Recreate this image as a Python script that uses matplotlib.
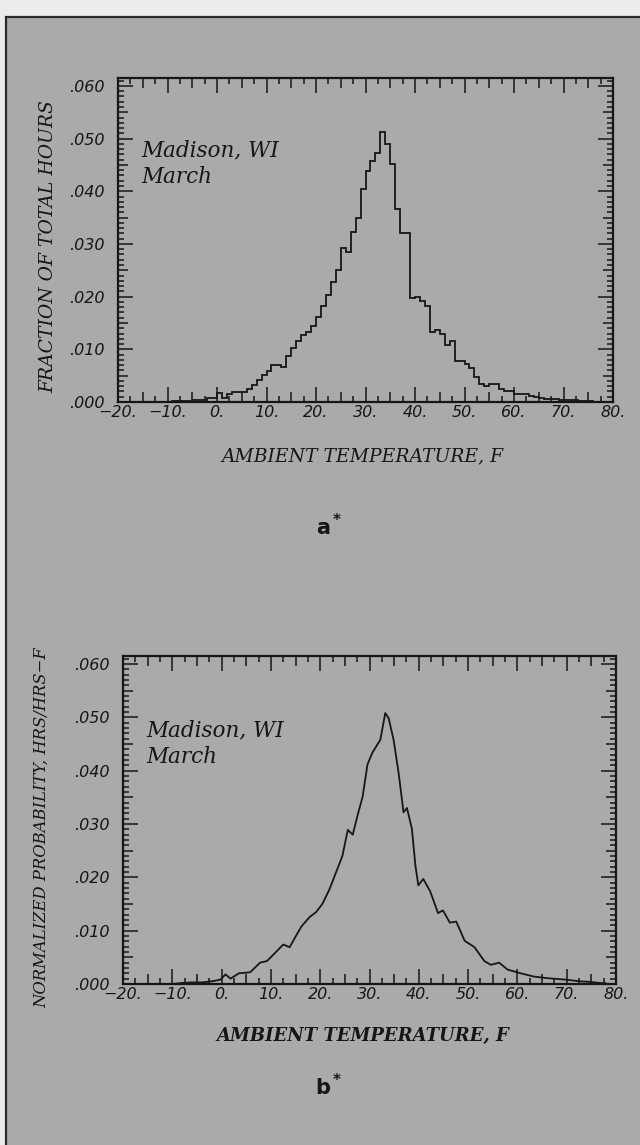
import numpy as np
import matplotlib
matplotlib.use("Agg")
import matplotlib.pyplot as plt
from matplotlib.patches import Rectangle
from matplotlib.ticker import MultipleLocator, FixedLocator

# ---------------- data ----------------
# (a) histogram, 1 F bins, left edges -10 .. 75
bin_left = list(range(-10, 76))
frac_hours = [
    0.0000, 0.0001, 0.0001, 0.0002, 0.0002, 0.0003, 0.0003, 0.0004, 0.0008, 0.0008,  # -10..-1
    0.0017, 0.0008, 0.0015, 0.0019, 0.0019, 0.0019, 0.0025, 0.0033, 0.0041, 0.0051,  # 0..9
    0.0058, 0.0070, 0.0070, 0.0067, 0.0088, 0.0103, 0.0116, 0.0127, 0.0133, 0.0145,  # 10..19
    0.0162, 0.0182, 0.0203, 0.0228, 0.0250, 0.0292, 0.0284, 0.0323, 0.0350, 0.0405,  # 20..29
    0.0438, 0.0457, 0.0473, 0.0512, 0.0489, 0.0451, 0.0367, 0.0321, 0.0321, 0.0197,  # 30..39
    0.0199, 0.0192, 0.0183, 0.0132, 0.0137, 0.0129, 0.0108, 0.0115, 0.0078, 0.0078,  # 40..49
    0.0072, 0.0065, 0.0048, 0.0035, 0.0030, 0.0035, 0.0035, 0.0024, 0.0020, 0.0020,  # 50..59
    0.0015, 0.0015, 0.0015, 0.0012, 0.0010, 0.0007, 0.0006, 0.0005, 0.0005, 0.0004,  # 60..69
    0.0004, 0.0004, 0.0003, 0.0002, 0.0002, 0.0001,                                  # 70..75
]

# (b) smoothed normalized probability curve
curve_t = [-10, -8, -6, -4, -2, -0.3, 0.8, 1.8, 3.5, 5.8, 7.8, 9.2, 10.5, 12.5, 13.8,
           15.2, 16.2, 17.9, 19.2, 20.5, 21.9, 23.2, 24.5, 25.6, 26.6, 27.6, 28.6,
           29.6, 30.6, 31.6, 32.2, 33.2, 33.9, 34.9, 35.9, 36.9, 37.6, 38.6, 39.3,
           39.9, 40.9, 42.3, 43.9, 44.9, 46.3, 47.6, 49.3, 51.3, 53.3, 54.6, 56.3,
           58.0, 60.7, 63.3, 66.0, 70.0, 72.7, 74.7, 76.7, 78.0]
curve_p = [0.0000, 0.0002, 0.0003, 0.0003, 0.0005, 0.0008, 0.0018, 0.0010, 0.0020,
           0.0022, 0.0040, 0.0043, 0.0055, 0.0074, 0.0069, 0.0092, 0.0108, 0.0126,
           0.0135, 0.0151, 0.0178, 0.0209, 0.0240, 0.0289, 0.0280, 0.0317, 0.0351,
           0.0412, 0.0434, 0.0449, 0.0458, 0.0508, 0.0498, 0.0457, 0.0396, 0.0322,
           0.0330, 0.0291, 0.0223, 0.0185, 0.0197, 0.0174, 0.0133, 0.0138, 0.0115,
           0.0117, 0.0081, 0.0069, 0.0043, 0.0036, 0.0040, 0.0027, 0.0020, 0.0014,
           0.0011, 0.0008, 0.0005, 0.0004, 0.0002, 0.0001]

x_ticks = [-20, -10, 0, 10, 20, 30, 40, 50, 60, 70, 80]
x_tick_labels = ["\u221220.", "\u221210.", "0.", "10.", "20.", "30.", "40.",
                 "50.", "60.", "70.", "80."]
y_ticks = [0.0, 0.01, 0.02, 0.03, 0.04, 0.05, 0.06]
y_tick_labels = [".000", ".010", ".020", ".030", ".040", ".050", ".060"]

# ---------------- styling ----------------
W, H = 640, 1145
DARK = "#161616"
PANEL = "#aaaaaa"

fig = plt.figure(figsize=(W / 100, H / 100), dpi=100)
fig.patch.set_facecolor("#ececec")
bg = Rectangle((6 / W, -0.01), 1, 1.01 - 17 / H, transform=fig.transFigure,
               facecolor=PANEL, edgecolor="#2a2a2a", linewidth=1.6, zorder=-100)
fig.add_artist(bg)


def fx(px):
    return px / W


def fy(py):
    return 1 - py / H


def setup(ax):
    ax.set_zorder(5)
    ax.set_facecolor("none")
    ax.set_xlim(-20, 80)
    ax.set_ylim(0, 0.0615)
    for s in ax.spines.values():
        s.set_linewidth(1.6)
        s.set_color(DARK)
    ax.xaxis.set_major_locator(FixedLocator(x_ticks))
    ax.xaxis.set_minor_locator(MultipleLocator(2.5))
    ax.yaxis.set_major_locator(FixedLocator(y_ticks))
    ax.yaxis.set_minor_locator(MultipleLocator(0.001))
    ax.set_xticklabels(x_tick_labels, fontsize=11.5, style="italic",
                       family="DejaVu Sans", color=DARK)
    ax.set_yticklabels(y_tick_labels, fontsize=11.5, style="italic",
                       family="DejaVu Sans", color=DARK)
    ax.tick_params(which="both", direction="in", top=True, right=True,
                   color=DARK, width=1.1)
    ax.tick_params(which="major", length=11)
    ax.tick_params(which="minor", length=4.5)
    ax.tick_params(axis="x", which="major", pad=2)
    ax.tick_params(axis="y", which="major", pad=10)
    # medium-length ticks at multiples of 5 (x) and .005 (y)
    xl = ax.xaxis.get_minorticklocs()
    for t, loc in zip(ax.xaxis.get_minor_ticks(len(xl)), xl):
        if abs(loc / 5 - round(loc / 5)) < 1e-6:
            t.tick1line.set_markersize(7.5)
            t.tick2line.set_markersize(7.5)
    yl = ax.yaxis.get_minorticklocs()
    for t, loc in zip(ax.yaxis.get_minor_ticks(len(yl)), yl):
        if abs(loc / 0.005 - round(loc / 0.005)) < 1e-6:
            t.tick1line.set_markersize(7.5)
            t.tick2line.set_markersize(7.5)


# ---------------- panel a ----------------
axa = fig.add_axes([fx(118), fy(402), fx(613) - fx(118), fy(78) - fy(402)])
setup(axa)
edges = bin_left + [bin_left[-1] + 1]
axa.stairs(frac_hours, edges, color=DARK, linewidth=1.3, baseline=0)
fig.text(fx(141), fy(150), "Madison, WI", family="DejaVu Serif", style="italic",
         fontsize=15.5, color=DARK, va="center", ha="left")
fig.text(fx(141), fy(177), "March", family="DejaVu Serif", style="italic",
         fontsize=15.5, color=DARK, va="center", ha="left")
fig.text(fx(48), fy(247), "FRACTION OF TOTAL HOURS", family="DejaVu Serif",
         style="italic", fontsize=13.5, color=DARK, rotation=90,
         ha="center", va="center")
fig.text(fx(362), fy(456), "AMBIENT TEMPERATURE, F", family="DejaVu Serif",
         style="italic", fontsize=13.5, color=DARK, ha="center", va="center")
fig.text(fx(323), fy(528), "a", family="DejaVu Sans", weight="bold",
         fontsize=15, color=DARK, ha="center", va="center")
fig.text(fx(333), fy(521), "*", family="DejaVu Sans", weight="bold",
         fontsize=11, color=DARK, ha="left", va="center")

# ---------------- panel b ----------------
axb = fig.add_axes([fx(123), fy(984), fx(616) - fx(123), fy(656) - fy(984)])
setup(axb)
axb.plot(curve_t, curve_p, color=DARK, linewidth=1.3, solid_joinstyle="round")
fig.text(fx(146), fy(730), "Madison, WI", family="DejaVu Serif", style="italic",
         fontsize=15.5, color=DARK, va="center", ha="left")
fig.text(fx(146), fy(757), "March", family="DejaVu Serif", style="italic",
         fontsize=15.5, color=DARK, va="center", ha="left")
fig.text(fx(42), fy(828), "NORMALIZED PROBABILITY, HRS/HRS\u2212F",
         family="DejaVu Serif", style="italic", fontsize=11.8, color=DARK,
         rotation=90, ha="center", va="center")
fig.text(fx(363), fy(1036), "AMBIENT TEMPERATURE, F", family="DejaVu Serif",
         style="italic", weight="bold", fontsize=13, color=DARK,
         ha="center", va="center")
fig.text(fx(323), fy(1088), "b", family="DejaVu Sans", weight="bold",
         fontsize=15, color=DARK, ha="center", va="center")
fig.text(fx(333), fy(1081), "*", family="DejaVu Sans", weight="bold",
         fontsize=11, color=DARK, ha="left", va="center")

fig.savefig("out.png", dpi=100, facecolor=fig.get_facecolor())
